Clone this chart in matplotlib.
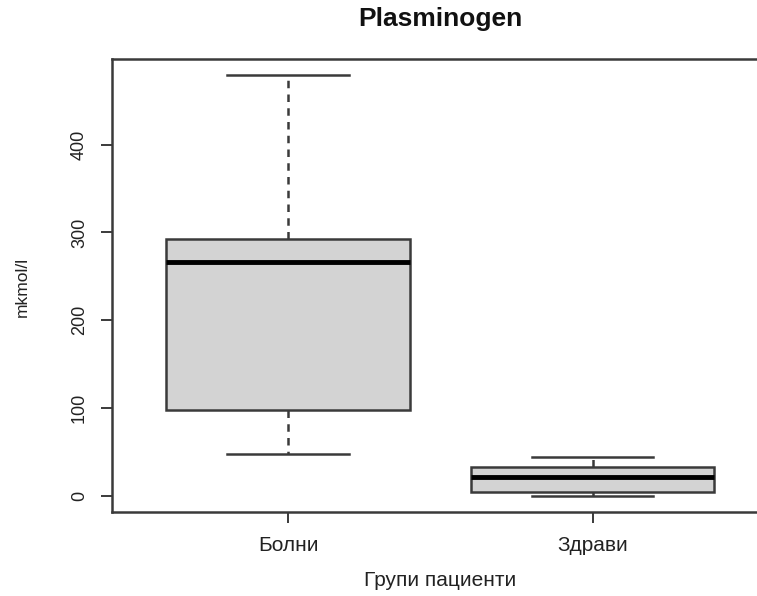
import matplotlib.pyplot as plt

# Boxplot summary for each patient group (mkmol/l)
groups = ['Болни', 'Здрави']
whisker_low = [47.8, 0.3]
q1 = [97.8, 4.6]
median = [265.8, 21.6]
q3 = [292.0, 33.3]
whisker_high = [479.0, 44.4]
yticks = [0, 100, 200, 300, 400]

plt.rcParams['font.family'] = ['Liberation Sans', 'DejaVu Sans']

W, H = 757, 596
fig = plt.figure(figsize=(W / 100, H / 100), dpi=100)
# axes in pixel units, R-like plot region (extends a bit past the right edge)
left, right, top, bottom = 111.7, 769.0, 59.0, 512.3
ax = fig.add_axes([left / W, 1 - bottom / H, (right - left) / W, (bottom - top) / H])

stats = []
for i, g in enumerate(groups):
    stats.append({'label': g, 'whislo': whisker_low[i], 'q1': q1[i], 'med': median[i],
                  'q3': q3[i], 'whishi': whisker_high[i], 'fliers': []})

edge = '#3a3a3a'
ax.bxp(stats, positions=[1, 2], widths=0.8, capwidths=0.4, patch_artist=True,
       showfliers=False,
       boxprops=dict(facecolor='#d3d3d3', edgecolor=edge, linewidth=1.8),
       whiskerprops=dict(color=edge, linewidth=1.8, linestyle=(0, (3, 2.5))),
       capprops=dict(color=edge, linewidth=1.8),
       medianprops=dict(color='black', linewidth=3.5))

ax.set_xlim(0.42, 2.58)
ax.set_ylim(-18.7, 497.5)
ax.set_yticks(yticks)
ax.set_yticklabels([str(v) for v in yticks], rotation=90, va='center', fontsize=13, color='#222222')
ax.set_xticks([1, 2])
ax.set_xticklabels(groups, fontsize=15, color='#222222')
ax.tick_params(axis='y', length=8, width=1.4, pad=9, color=edge)
ax.tick_params(axis='x', length=8, width=1.4, pad=9, color=edge)
for s in ax.spines.values():
    s.set_color(edge)
    s.set_linewidth(1.8)

fig.text(440 / W, 1 - 19 / H, 'Plasminogen', ha='center', va='center',
         fontsize=19, fontweight='bold', color='#111111')
fig.text(440 / W, 1 - 580 / H, 'Групи пациенти', ha='center', va='center',
         fontsize=15, color='#222222')
fig.text(22 / W, 1 - 287 / H, 'mkmol/l', ha='center', va='center', rotation=90,
         fontsize=12.5, color='#222222')

fig.savefig('out.png', dpi=100)
